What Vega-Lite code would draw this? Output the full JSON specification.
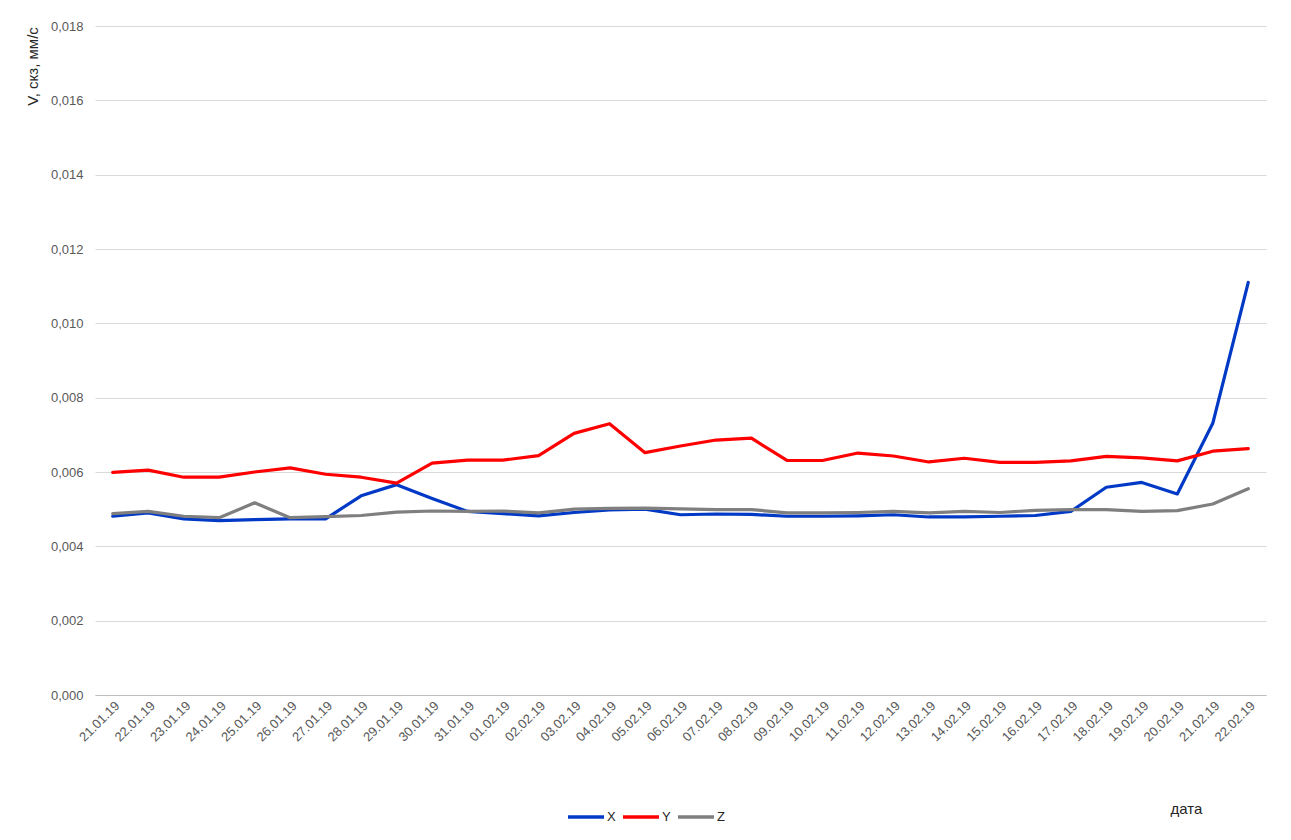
{
  "$schema": "https://vega.github.io/schema/vega-lite/v6.json",
  "width": 1171,
  "height": 669,
  "autosize": "none",
  "padding": {"left": 95, "top": 26, "right": 25, "bottom": 145},
  "background": "white",
  "config": {
    "view": {"stroke": null},
    "font": "Liberation Sans"
  },
  "data": {
    "values": [
      {"date": "21.01.19", "X": 0.00481, "Y": 0.00599, "Z": 0.00488},
      {"date": "22.01.19", "X": 0.0049, "Y": 0.00605, "Z": 0.00494},
      {"date": "23.01.19", "X": 0.00474, "Y": 0.00586, "Z": 0.00481},
      {"date": "24.01.19", "X": 0.00469, "Y": 0.00586, "Z": 0.00477},
      {"date": "25.01.19", "X": 0.00472, "Y": 0.006, "Z": 0.00517},
      {"date": "26.01.19", "X": 0.00474, "Y": 0.00611, "Z": 0.00477},
      {"date": "27.01.19", "X": 0.00474, "Y": 0.00594, "Z": 0.0048},
      {"date": "28.01.19", "X": 0.00536, "Y": 0.00586, "Z": 0.00483},
      {"date": "29.01.19", "X": 0.00566, "Y": 0.0057, "Z": 0.00492},
      {"date": "30.01.19", "X": 0.00529, "Y": 0.00624, "Z": 0.00495},
      {"date": "31.01.19", "X": 0.00494, "Y": 0.00632, "Z": 0.00494},
      {"date": "01.02.19", "X": 0.00488, "Y": 0.00632, "Z": 0.00495},
      {"date": "02.02.19", "X": 0.00482, "Y": 0.00644, "Z": 0.0049},
      {"date": "03.02.19", "X": 0.00491, "Y": 0.00704, "Z": 0.005},
      {"date": "04.02.19", "X": 0.00498, "Y": 0.0073, "Z": 0.00502},
      {"date": "05.02.19", "X": 0.005, "Y": 0.00652, "Z": 0.00503},
      {"date": "06.02.19", "X": 0.00485, "Y": 0.0067, "Z": 0.00501},
      {"date": "07.02.19", "X": 0.00487, "Y": 0.00686, "Z": 0.00499},
      {"date": "08.02.19", "X": 0.00486, "Y": 0.00691, "Z": 0.00499},
      {"date": "09.02.19", "X": 0.00481, "Y": 0.00631, "Z": 0.0049},
      {"date": "10.02.19", "X": 0.00481, "Y": 0.00631, "Z": 0.0049},
      {"date": "11.02.19", "X": 0.00482, "Y": 0.00651, "Z": 0.00491},
      {"date": "12.02.19", "X": 0.00485, "Y": 0.00643, "Z": 0.00494},
      {"date": "13.02.19", "X": 0.00479, "Y": 0.00627, "Z": 0.0049},
      {"date": "14.02.19", "X": 0.00479, "Y": 0.00637, "Z": 0.00494},
      {"date": "15.02.19", "X": 0.00481, "Y": 0.00626, "Z": 0.00491},
      {"date": "16.02.19", "X": 0.00483, "Y": 0.00626, "Z": 0.00497},
      {"date": "17.02.19", "X": 0.00494, "Y": 0.0063, "Z": 0.00499},
      {"date": "18.02.19", "X": 0.00559, "Y": 0.00642, "Z": 0.00499},
      {"date": "19.02.19", "X": 0.00572, "Y": 0.00638, "Z": 0.00494},
      {"date": "20.02.19", "X": 0.00541, "Y": 0.0063, "Z": 0.00496},
      {"date": "21.02.19", "X": 0.00731, "Y": 0.00656, "Z": 0.00514},
      {"date": "22.02.19", "X": 0.0111, "Y": 0.00663, "Z": 0.00555}
    ]
  },
  "transform": [
    {"fold": ["X", "Y", "Z"], "as": ["axis", "value"]}
  ],
  "mark": {"type": "line", "strokeWidth": 3.2, "strokeCap": "round", "strokeJoin": "round"},
  "encoding": {
    "x": {
      "field": "date",
      "type": "ordinal",
      "sort": null,
      "scale": {"type": "point", "padding": 0.5},
      "axis": {
        "title": "дата",
        "titleX": 1091,
        "titleY": 113,
        "titleAlign": "center",
        "titleBaseline": "middle",
        "titleFontSize": 15,
        "titleFontWeight": "normal",
        "titleColor": "#262626",
        "labelAngle": -45,
        "labelFontSize": 13,
        "labelColor": "#595959",
        "labelPadding": 4,
        "ticks": false,
        "grid": false,
        "domainColor": "#bfbfbf"
      }
    },
    "y": {
      "field": "value",
      "type": "quantitative",
      "scale": {"domain": [0, 0.018], "nice": false},
      "axis": {
        "title": "V, скз, мм/с",
        "titleAngle": -90,
        "titleX": -63,
        "titleY": 40,
        "titleAlign": "center",
        "titleBaseline": "middle",
        "titleFontSize": 15,
        "titleFontWeight": "normal",
        "titleColor": "#262626",
        "values": [0, 0.002, 0.004, 0.006, 0.008, 0.01, 0.012, 0.014, 0.016, 0.018],
        "labelExpr": "replace(format(datum.value, '.3f'), '.', ',')",
        "labelFontSize": 13,
        "labelColor": "#595959",
        "labelPadding": 12,
        "ticks": false,
        "domain": false,
        "gridColor": "#d9d9d9",
        "gridWidth": 1
      }
    },
    "color": {
      "field": "axis",
      "type": "nominal",
      "scale": {"domain": ["X", "Y", "Z"], "range": ["#0039c6", "#ff0000", "#7f7f7f"]},
      "legend": {
        "title": null,
        "orient": "none",
        "direction": "horizontal",
        "legendX": 471,
        "legendY": 771,
        "symbolType": "stroke",
        "symbolStrokeWidth": 3.5,
        "symbolSize": 1296,
        "labelFontSize": 13,
        "labelColor": "#262626",
        "columnPadding": 0,
        "labelOffset": 1
      }
    }
  }
}
